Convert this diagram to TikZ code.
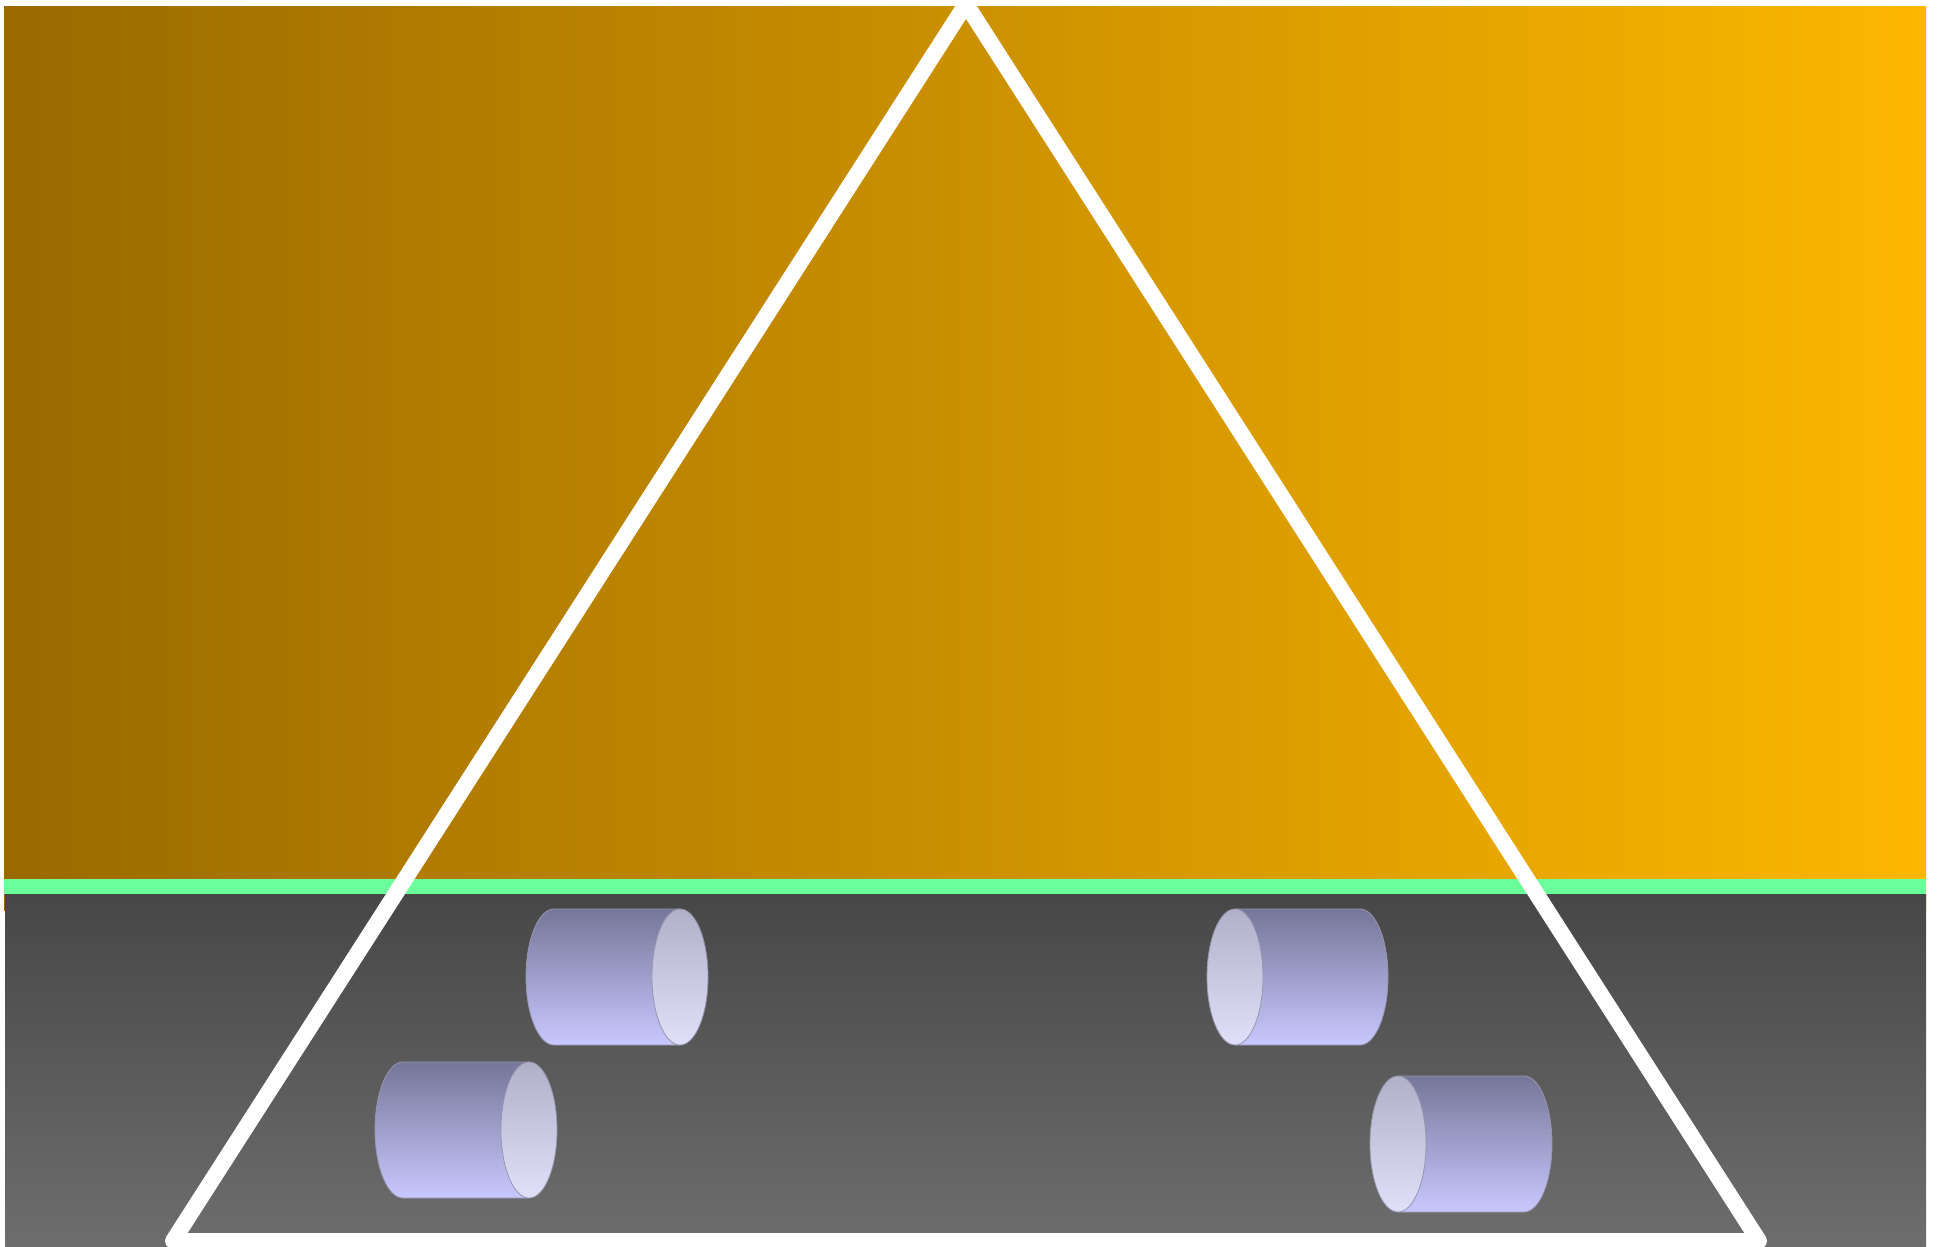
\documentclass[tikz,border=0pt]{standalone}
\definecolor{goldL}{RGB}{154,106,0}
\definecolor{goldM}{RGB}{210,148,0}
\definecolor{goldR}{RGB}{253,183,0}
\definecolor{band}{RGB}{106,255,154}
\definecolor{grayT}{RGB}{71,71,71}
\definecolor{grayB}{RGB}{110,110,110}
\definecolor{bodyT}{RGB}{118,118,153}
\definecolor{bodyB}{RGB}{200,200,255}
\definecolor{faceT}{RGB}{176,176,200}
\definecolor{faceB}{RGB}{224,224,250}
\definecolor{cylEdge}{RGB}{150,150,175}
\tikzset{
  cylbody/.style={top color=bodyT, bottom color=bodyB},
  cylface/.style={top color=faceT, bottom color=faceB},
  cyledge/.style={draw=cylEdge, line width=0.8pt},
  frame/.style={draw=white, line width=16pt, line join=round}
}
% #1 back x, #2 front x, #3 centre y, #4 end angle of back arc (90 = back on left, 450 = back on right)
\newcommand{\mycyl}[4]{%
  \shade[cylbody] (#1,#3-68) arc[start angle=270, end angle=#4, x radius=28, y radius=68] -- (#2,#3+68) -- (#2,#3-68) -- cycle;
  \draw[cyledge] (#2,#3-68) -- (#1,#3-68) arc[start angle=270, end angle=#4, x radius=28, y radius=68] -- (#2,#3+68);
  \shade[cylface] (#2,#3) ellipse[x radius=28, y radius=68];
  \draw[cyledge] (#2,#3) ellipse[x radius=28, y radius=68];
}
\begin{document}
\begin{tikzpicture}[x=1pt,y=-1pt]
\useasboundingbox (0,0) rectangle (1941,1247);
\fill[white] (0,0) rectangle (1941,1247);
\shade[left color=goldL, middle color=goldM, right color=goldR] (4,7) rectangle (1926,910);
\fill[band] (4,879) rectangle (1926,894);
\shade[top color=grayT, bottom color=grayB] (5,894) rectangle (1926,1250);
\coordinate (apex) at (966,4);
\coordinate (bl) at (173,1241);
\coordinate (br) at (1759,1241);
\draw[frame] (apex) -- (bl) -- (br) -- cycle;
\mycyl{554}{680}{977}{90}
\mycyl{1360}{1235}{977}{450}
\mycyl{403}{529}{1130}{90}
\mycyl{1524}{1398}{1144}{450}
\end{tikzpicture}
\end{document}
